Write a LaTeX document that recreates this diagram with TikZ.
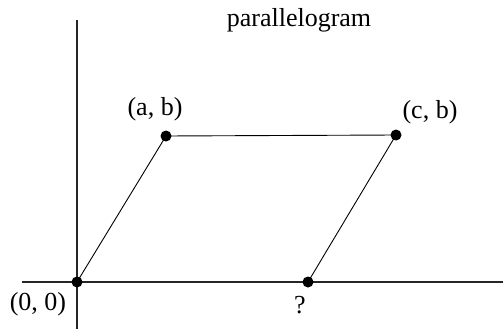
\documentclass[tikz,border=0pt]{standalone}
\usepackage{fontspec}
\setmainfont{Liberation Serif}
\begin{document}
\begin{tikzpicture}[x=1pt,y=-1pt,
  axis/.style={line width=1.6pt,draw=black!85},
  side/.style={line width=0.9pt},
  dot/.style={circle,fill=black,inner sep=0pt,minimum size=11pt},
  lbl/.style={font=\fontsize{26}{28}\selectfont,inner sep=0pt}]
\useasboundingbox (0,0) rectangle (503,329);
\coordinate (yt) at (77,20);
\coordinate (yb) at (77,329);
\coordinate (xl) at (22,282);
\coordinate (xr) at (503,282);
\draw[axis] (yt) -- (yb);
\draw[axis] (xl) -- (xr);
\node[dot] (o) at (77,282) {};
\node[dot] (ab) at (166,136) {};
\node[dot] (cb) at (396,135) {};
\node[dot] (q) at (308,282) {};
\draw[side] (o.center) -- (ab.center) -- (cb.center) -- (q.center);
\node[lbl] (t) at (299,20) {parallelogram};
\node[lbl] (lo) at (38,304) {(0, 0)};
\node[lbl] (lab) at (155,109) {(a, b)};
\node[lbl] (lcb) at (430,112) {(c, b)};
\node[lbl] (lq) at (300,305) {?};
\end{tikzpicture}
\end{document}
